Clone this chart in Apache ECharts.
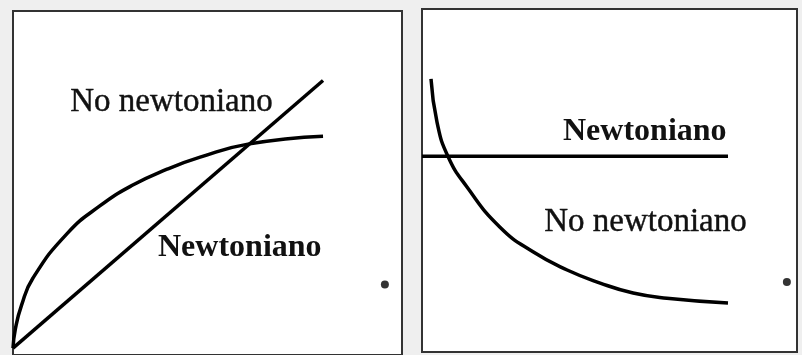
<!DOCTYPE html>
<html>
<head>
<meta charset="utf-8">
<script src="https://cdn.jsdelivr.net/npm/echarts@6/dist/echarts.min.js"></script>
<style>
  html, body { margin: 0; padding: 0; background: #efefef; }
  #chart { width: 802px; height: 355px; }
</style>
</head>
<body>
<div id="chart"></div>
<script>
// left panel: flow curves (units 0-100 on both axes)
const leftNewtonian = [[0, 2.0], [79.7, 79.8]]
const leftNonNewtonian = [
  [0, 2.0], [0.6, 7.5], [2.2, 14.5], [5.1, 22.3], [13.9, 35.3],
  [22.4, 43.4], [30.8, 49.4], [39.6, 54.0], [48.1, 57.5], [60.4, 61.3],
  [79.7, 63.6]
]
const leftDot = [[95.6, 20.5]]

// right panel: viscosity curves
const rightNewtonian = [[0, 57.1], [81.6, 57.1]]
const rightNonNewtonian = [
  [2.4, 79.6], [4.0, 67.0], [6.9, 57.1], [12.0, 48.1],
  [20.8, 36.4], [29.6, 29.2], [38.7, 23.9], [47.5, 20.1], [56.3, 17.2],
  [65.3, 15.7], [81.6, 14.3]
]
const rightDot = [[97.3, 20.4]]

const labelNewton = 'Newtoniano'
const labelNonNewton = 'No newtoniano'

const chart = echarts.init(document.getElementById('chart'))

const lineStyle = { color: '#000', width: 3.5 }
const serif = '"Liberation Serif", "DejaVu Serif", serif'

function curve(data, idx) {
  return {
    type: 'line',
    xAxisIndex: idx,
    yAxisIndex: idx,
    data: data,
    showSymbol: false,
    smooth: true,
    lineStyle: lineStyle,
    silent: true
  }
}

function dot(data, idx) {
  return {
    type: 'scatter',
    xAxisIndex: idx,
    yAxisIndex: idx,
    data: data,
    symbolSize: 8,
    itemStyle: { color: '#000' },
    silent: true
  }
}

const axis = (idx) => ({ type: 'value', gridIndex: idx, min: 0, max: 100, show: false })

const option = {
  animation: false,
  backgroundColor: '#efefef',
  grid: [
    { left: 13, top: 11, width: 389, height: 346, show: true, backgroundColor: '#fff', borderColor: '#333', borderWidth: 2 },
    { left: 422, top: 9, width: 375, height: 343, show: true, backgroundColor: '#fff', borderColor: '#333', borderWidth: 2 }
  ],
  xAxis: [axis(0), axis(1)],
  yAxis: [axis(0), axis(1)],
  series: [
    curve(leftNewtonian, 0),
    curve(leftNonNewtonian, 0),
    dot(leftDot, 0),
    curve(rightNewtonian, 1),
    curve(rightNonNewtonian, 1),
    dot(rightDot, 1)
  ],
  graphic: [
    { type: 'text', left: 70, top: 86, style: { text: labelNonNewton, font: '33px ' + serif, fill: '#111', stroke: '#111', lineWidth: 0.4 } },
    { type: 'text', left: 158, top: 232, style: { text: labelNewton, font: 'bold 32px ' + serif, fill: '#111' } },
    { type: 'text', left: 563, top: 116, style: { text: labelNewton, font: 'bold 32px ' + serif, fill: '#111' } },
    { type: 'text', left: 544, top: 206, style: { text: labelNonNewton, font: '33px ' + serif, fill: '#111', stroke: '#111', lineWidth: 0.4 } }
  ]
}

chart.setOption(option)
</script>
</body>
</html>
